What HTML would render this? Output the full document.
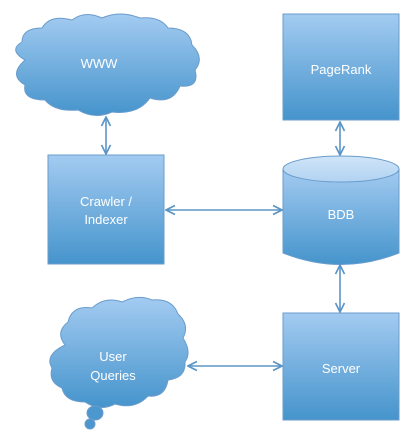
<!DOCTYPE html>
<html><head><style>body{margin:0;background:#fff}svg{display:block}</style></head><body>
<svg width="415" height="440" viewBox="0 0 415 440" xmlns="http://www.w3.org/2000/svg" font-family="Liberation Sans, sans-serif">
<defs>
<linearGradient id="g" x1="0" y1="0" x2="0" y2="1"><stop offset="0" stop-color="#a3cbf1"/><stop offset="1" stop-color="#4594cc"/></linearGradient>
<linearGradient id="gt" x1="0" y1="0" x2="0" y2="1"><stop offset="0" stop-color="#cfe4f8"/><stop offset="1" stop-color="#b1d3f2"/></linearGradient>
<marker id="a" viewBox="0 0 10 10" refX="9" refY="5" markerWidth="7" markerHeight="7" orient="auto-start-reverse"><path d="M1 1L9 5L1 9" fill="none" stroke="#5b95c6" stroke-width="1.5"/></marker>
</defs>
<g stroke="#6a9ccb" stroke-width="1">
<rect x="283" y="14" width="116" height="106" fill="url(#g)"/>
<rect x="48" y="155" width="116" height="109" fill="url(#g)"/>
<rect x="283" y="313" width="116" height="107" fill="url(#g)"/>
<path d="M283 169 L283 253 Q341 276 399 253 L399 169 Z" fill="url(#g)"/>
<ellipse cx="341" cy="169" rx="58" ry="13" fill="url(#gt)"/>
<path d="M25 60 Q8 50 22 42 Q22 28 42 28 Q50 14 72 20 Q85 10 102 18 Q120 10 140 18 Q160 16 168 28 Q190 28 192 45 Q205 58 195 70 Q200 88 180 86 Q172 105 150 98 Q138 115 112 112 Q95 120 78 110 Q55 112 45 100 Q22 100 25 85 Q8 75 25 60 Z" fill="url(#g)"/>
<path d="M65 345 Q55 332 68 322 Q72 305 92 308 Q105 296 122 302 Q138 294 152 300 Q172 298 178 314 Q190 325 183 338 Q192 352 185 362 Q186 378 168 380 Q165 398 148 396 Q135 410 115 404 Q100 412 85 402 Q65 402 62 388 Q48 382 52 368 Q44 355 65 345 Z" fill="url(#g)"/>
<ellipse cx="95" cy="413" rx="8" ry="7" fill="#4d97cf"/>
<ellipse cx="90" cy="424" rx="5" ry="5" fill="#4d97cf"/>
</g>
<g stroke="#5b95c6" stroke-width="1.6" marker-start="url(#a)" marker-end="url(#a)">
<line x1="106" y1="117" x2="106" y2="154"/>
<line x1="340" y1="122" x2="340" y2="155"/>
<line x1="166" y1="210" x2="282" y2="210"/>
<line x1="340" y1="265" x2="340" y2="312"/>
<line x1="188" y1="366" x2="282" y2="366"/>
</g>
<g fill="#fff" font-size="13" text-anchor="middle">
<text x="99" y="68">WWW</text>
<text x="341" y="74">PageRank</text>
<text x="106" y="206">Crawler /</text>
<text x="106" y="224">Indexer</text>
<text x="341" y="219">BDB</text>
<text x="341" y="373">Server</text>
<text x="113" y="361">User</text>
<text x="113" y="380">Queries</text>
</g>
</svg>
</body></html>
